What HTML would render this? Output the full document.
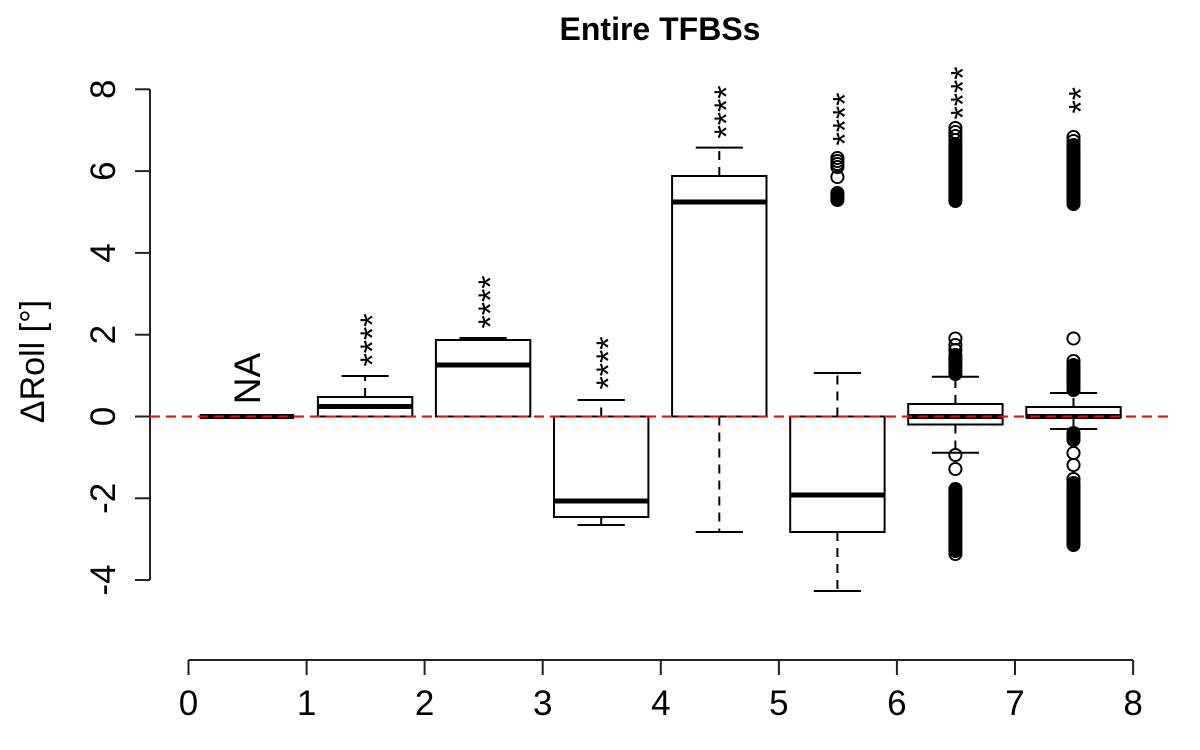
<!DOCTYPE html>
<html>
<head>
<meta charset="utf-8">
<style>
  html, body { margin:0; padding:0; background:#fff; }
  svg { display:block; }
  text { font-family: "Liberation Sans", "DejaVu Sans", sans-serif; fill:#000; }
</style>
</head>
<body>
<svg width="1200" height="750" viewBox="0 0 1200 750" xmlns="http://www.w3.org/2000/svg">
  <rect width="1200" height="750" fill="#fff"/>

  <!-- Title -->
  <text x="660" y="40" text-anchor="middle" font-size="32" font-weight="bold">Entire TFBSs</text>

  <!-- Y axis -->
  <g stroke="#222" stroke-width="2" fill="none">
    <line x1="150" y1="89.3" x2="150" y2="580"/>
    <line x1="135" y1="89.3" x2="150" y2="89.3"/>
    <line x1="135" y1="171.1" x2="150" y2="171.1"/>
    <line x1="135" y1="252.9" x2="150" y2="252.9"/>
    <line x1="135" y1="334.7" x2="150" y2="334.7"/>
    <line x1="135" y1="416.5" x2="150" y2="416.5"/>
    <line x1="135" y1="498.3" x2="150" y2="498.3"/>
    <line x1="135" y1="580" x2="150" y2="580"/>
  </g>
  <g font-size="35" text-anchor="middle">
    <text transform="translate(115,89.3) rotate(-90)">8</text>
    <text transform="translate(115,171.1) rotate(-90)">6</text>
    <text transform="translate(115,252.9) rotate(-90)">4</text>
    <text transform="translate(115,334.7) rotate(-90)">2</text>
    <text transform="translate(115,416.5) rotate(-90)">0</text>
    <text transform="translate(115,498.3) rotate(-90)">-2</text>
    <text transform="translate(115,580) rotate(-90)">-4</text>
  </g>
  <text transform="translate(44,361.5) rotate(-90)" text-anchor="middle" font-size="34">ΔRoll [°]</text>

  <!-- X axis -->
  <g stroke="#222" stroke-width="2" fill="none">
    <line x1="188.5" y1="660" x2="1133.1" y2="660"/>
    <line x1="188.5" y1="660" x2="188.5" y2="675"/>
    <line x1="306.6" y1="660" x2="306.6" y2="675"/>
    <line x1="424.6" y1="660" x2="424.6" y2="675"/>
    <line x1="542.7" y1="660" x2="542.7" y2="675"/>
    <line x1="660.8" y1="660" x2="660.8" y2="675"/>
    <line x1="778.9" y1="660" x2="778.9" y2="675"/>
    <line x1="896.9" y1="660" x2="896.9" y2="675"/>
    <line x1="1015" y1="660" x2="1015" y2="675"/>
    <line x1="1133.1" y1="660" x2="1133.1" y2="675"/>
  </g>
  <g font-size="35" text-anchor="middle">
    <text x="188.5" y="715">0</text>
    <text x="306.6" y="715">1</text>
    <text x="424.6" y="715">2</text>
    <text x="542.7" y="715">3</text>
    <text x="660.8" y="715">4</text>
    <text x="778.9" y="715">5</text>
    <text x="896.9" y="715">6</text>
    <text x="1015" y="715">7</text>
    <text x="1133.1" y="715">8</text>
  </g>

  <!-- Whiskers (dashed) -->
  <g stroke="#000" stroke-width="2" stroke-dasharray="9 7" fill="none">
    <line x1="365.1" y1="397" x2="365.1" y2="376"/>
    <line x1="601.2" y1="416.5" x2="601.2" y2="400"/>
    <line x1="601.2" y1="517" x2="601.2" y2="525"/>
    <line x1="719.3" y1="176" x2="719.3" y2="147.6"/>
    <line x1="719.3" y1="416.5" x2="719.3" y2="532"/>
    <line x1="837.4" y1="416.5" x2="837.4" y2="373"/>
    <line x1="837.4" y1="532" x2="837.4" y2="591"/>
    <line x1="955.4" y1="404" x2="955.4" y2="376.7"/>
    <line x1="955.4" y1="424.5" x2="955.4" y2="452.7"/>
    <line x1="1073.5" y1="407" x2="1073.5" y2="393"/>
    <line x1="1073.5" y1="417.5" x2="1073.5" y2="429"/>
  </g>
  <!-- Whisker caps -->
  <g stroke="#000" stroke-width="2" fill="none">
    <line x1="341.5" y1="376" x2="388.7" y2="376"/>
    <line x1="459.5" y1="338" x2="506.7" y2="338"/>
    <line x1="577.6" y1="400" x2="624.8" y2="400"/>
    <line x1="577.6" y1="525" x2="624.8" y2="525"/>
    <line x1="695.7" y1="147.6" x2="742.9" y2="147.6"/>
    <line x1="695.7" y1="532" x2="742.9" y2="532"/>
    <line x1="813.8" y1="373" x2="861" y2="373"/>
    <line x1="813.8" y1="591" x2="861" y2="591"/>
    <line x1="931.8" y1="376.7" x2="979" y2="376.7"/>
    <line x1="931.8" y1="452.7" x2="979" y2="452.7"/>
    <line x1="1049.9" y1="393" x2="1097.1" y2="393"/>
    <line x1="1049.9" y1="429" x2="1097.1" y2="429"/>
  </g>

  <!-- Boxes -->
  <g stroke="#000" stroke-width="2" fill="#fff">
    <rect x="317.9" y="397" width="94.4" height="19.5"/>
    <rect x="435.9" y="340" width="94.4" height="76.5"/>
    <rect x="554" y="416.5" width="94.4" height="100.5"/>
    <rect x="672.1" y="176" width="94.4" height="240.5"/>
    <rect x="790.2" y="416.5" width="94.4" height="115.5"/>
    <rect x="908.2" y="404" width="94.4" height="20.5"/>
    <rect x="1026.3" y="407" width="94.4" height="10.5"/>
  </g>
  <!-- Medians -->
  <g stroke="#000" stroke-width="5" fill="none">
    <line x1="199.8" y1="416.5" x2="294.2" y2="416.5"/>
    <line x1="317.9" y1="406.5" x2="412.3" y2="406.5"/>
    <line x1="435.9" y1="365" x2="530.3" y2="365"/>
    <line x1="554" y1="501" x2="648.4" y2="501"/>
    <line x1="672.1" y1="202" x2="766.5" y2="202"/>
    <line x1="790.2" y1="495" x2="884.6" y2="495"/>
    <line x1="908.2" y1="416.5" x2="1002.6" y2="416.5"/>
    <line x1="1026.3" y1="416.5" x2="1120.7" y2="416.5"/>
  </g>

  <!-- Outliers: rings -->
  <g stroke="#000" stroke-width="1.9" fill="none">
    <!-- box 6 -->
    <circle cx="837.4" cy="158" r="6.1"/>
    <circle cx="837.4" cy="161" r="6.1"/>
    <circle cx="837.4" cy="164" r="6.1"/>
    <circle cx="837.4" cy="167" r="6.1"/>
    <circle cx="837.4" cy="177" r="6.1"/>
    <circle cx="837.4" cy="193" r="6.1"/>
    <!-- box 7 -->
    <circle cx="955.4" cy="128" r="6.1"/>
    <circle cx="955.4" cy="132" r="6.1"/>
    <circle cx="955.4" cy="136" r="6.1"/>
    <circle cx="955.4" cy="140" r="6.1"/>
    <circle cx="955.4" cy="338.5" r="6.1"/>
    <circle cx="955.4" cy="345" r="6.1"/>
    <circle cx="955.4" cy="350" r="6.1"/>
    <circle cx="955.4" cy="455" r="6.1"/>
    <circle cx="955.4" cy="469" r="6.1"/>
    <circle cx="955.4" cy="554" r="6.1"/>
    <!-- box 8 -->
    <circle cx="1073.5" cy="137" r="6.1"/>
    <circle cx="1073.5" cy="141" r="6.1"/>
    <circle cx="1073.5" cy="338.5" r="6.1"/>
    <circle cx="1073.5" cy="361" r="6.1"/>
    <circle cx="1073.5" cy="453" r="6.1"/>
    <circle cx="1073.5" cy="465" r="6.1"/>
    <circle cx="1073.5" cy="479" r="6.1"/>
  </g>
  <!-- Outliers: dense blobs -->
  <g stroke="#000" stroke-width="14" stroke-linecap="round" fill="none">
    <line x1="837.4" y1="195" x2="837.4" y2="200"/>
    <line x1="955.4" y1="144" x2="955.4" y2="201"/>
    <line x1="955.4" y1="355" x2="955.4" y2="374"/>
    <line x1="955.4" y1="489" x2="955.4" y2="551"/>
    <line x1="1073.5" y1="145" x2="1073.5" y2="204"/>
    <line x1="1073.5" y1="365" x2="1073.5" y2="390"/>
    <line x1="1073.5" y1="433" x2="1073.5" y2="440"/>
    <line x1="1073.5" y1="483" x2="1073.5" y2="545"/>
  </g>

  <!-- Reference line -->
  <line x1="150" y1="416.5" x2="1169.5" y2="416.5" stroke="#ff0000" stroke-width="2" stroke-dasharray="10 6"/>

  <!-- NA label -->
  <text transform="translate(260,378.5) rotate(-90)" text-anchor="middle" font-size="37">NA</text>

  <!-- Significance stars -->
  <g font-size="34">
    <text transform="translate(384,366.5) rotate(-90)">****</text>
    <text transform="translate(502,328.5) rotate(-90)">****</text>
    <text transform="translate(620.1,389.5) rotate(-90)">****</text>
    <text transform="translate(738.2,138.5) rotate(-90)">****</text>
    <text transform="translate(856.3,145.5) rotate(-90)">****</text>
    <text transform="translate(974.3,119.5) rotate(-90)">****</text>
    <text transform="translate(1092.4,113.5) rotate(-90)">**</text>
  </g>
</svg>
</body>
</html>
